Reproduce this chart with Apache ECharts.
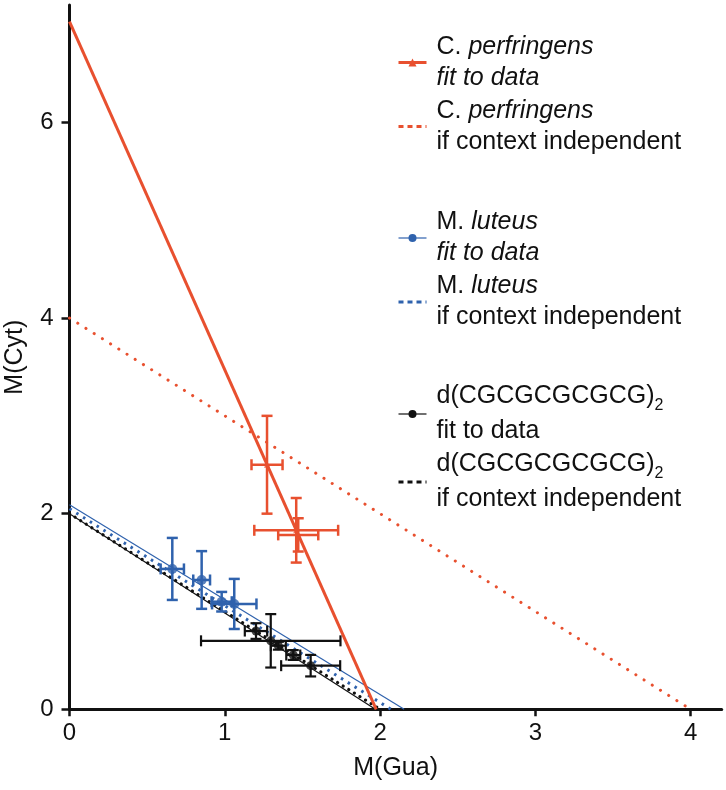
<!DOCTYPE html>
<html><head><meta charset="utf-8">
<script src="https://cdn.jsdelivr.net/npm/echarts@6/dist/echarts.min.js"></script>
<style>html,body{margin:0;padding:0;background:#fff}#c{width:726px;height:790px}</style>
</head><body><div id="c"></div>
<script>
// ---- axis ticks ----
const xTicks = [0, 1, 2, 3, 4];
const yTicks = [0, 2, 4, 6];
// ---- C. perfringens ----
const redX = [1.272, 1.46, 1.473];
const redY = [2.50, 1.83, 1.783];
const redXErr = [0.10, 0.27, 0.129];
const redYErr = [0.50, 0.33, 0.17];
const redFit = [[0, 7.03], [1.975, 0]];
const redIndep = [[0, 4.0], [4.0, 0]];
// ---- M. luteus ----
const blueX = [0.662, 0.851, 0.98, 1.061];
const blueY = [1.435, 1.322, 1.10, 1.077];
const blueXErr = [0.075, 0.054, 0.065, 0.143];
const blueYErr = [0.317, 0.295, 0.10, 0.256];
const blueFit = [[0, 2.09], [2.155, 0]];
const blueIndep = [[0, 2.05], [2.07, 0]];
// ---- d(CGCGCGCGCG)2 ----
const blackX = [1.201, 1.296, 1.345, 1.441, 1.553];
const blackY = [0.80, 0.70, 0.65, 0.555, 0.446];
const blackXErr = [0.072, 0.449, 0.048, 0.045, 0.19];
const blackYErr = [0.08, 0.273, 0.04, 0.05, 0.11];
const blackFit = [[0, 2.0], [1.97, 0]];
const blackIndep = [[0, 2.0], [2.0, 0]];

const RED = '#e8502f', BLUE = '#2f62ad', BLACK = '#111111';
const FONT = '"Liberation Sans", Arial, Helvetica, sans-serif';

function errSeries(xs, ys, xe, ye, color, lw) {
  return {
    type: 'custom', silent: true, z: 3,
    encode: { x: 0, y: 1 },
    data: xs.map((x, i) => [x, ys[i], xe[i], ye[i]]),
    renderItem: function (params, api) {
      const x = api.value(0), y = api.value(1), dx = api.value(2), dy = api.value(3);
      const l = api.coord([x - dx, y]), r = api.coord([x + dx, y]);
      const t = api.coord([x, y + dy]), b = api.coord([x, y - dy]);
      const c = 5.5;
      const st = { stroke: color, lineWidth: lw };
      const seg = (x1, y1, x2, y2) => ({ type: 'line', shape: { x1, y1, x2, y2 }, style: st });
      return { type: 'group', children: [
        seg(l[0], l[1], r[0], r[1]),
        seg(t[0], t[1], b[0], b[1]),
        seg(l[0], l[1] - c, l[0], l[1] + c),
        seg(r[0], r[1] - c, r[0], r[1] + c),
        seg(t[0] - c, t[1], t[0] + c, t[1]),
        seg(b[0] - c, b[1], b[0] + c, b[1])
      ] };
    }
  };
}
function pts(xs, ys, color, symbol, size) {
  return { type: 'scatter', silent: true, z: 4, symbol: symbol, symbolSize: size,
    itemStyle: { color: color }, data: xs.map((x, i) => [x, ys[i]]) };
}

const names = {
  rf: 'C. perfringens fit', ri: 'C. perfringens indep',
  bf: 'M. luteus fit', bi: 'M. luteus indep',
  kf: 'CG fit', ki: 'CG indep'
};
const legendText = {};
legendText[names.rf] = '{n|C. }{i|perfringens}\n{i|fit to data}';
legendText[names.ri] = '{n|C. }{i|perfringens}\n{n|if context independent}';
legendText[names.bf] = '{n|M. }{i|luteus}\n{i|fit to data}';
legendText[names.bi] = '{n|M. }{i|luteus}\n{n|if context independent}';
legendText[names.kf] = '{b|d(CGCGCGCGCG)}{s|2}\n{b|fit to data}';
legendText[names.ki] = '{b|d(CGCGCGCGCG)}{s|2}\n{b|if context independent}';

const rich = {
  n: { fontSize: 25, fontFamily: FONT, color: BLACK, lineHeight: 31 },
  i: { fontSize: 25, fontFamily: FONT, color: BLACK, lineHeight: 31, fontStyle: 'italic' },
  b: { fontSize: 25, fontFamily: FONT, color: BLACK, lineHeight: 35 },
  s: { fontSize: 16, fontFamily: FONT, color: BLACK, lineHeight: 10, verticalAlign: 'bottom' }
};
function legendBlock(top, fitName, indName) {
  return {
    orient: 'vertical', left: 397, top: top, padding: 0, itemGap: 8,
    itemWidth: 28, itemHeight: 10, selectedMode: false,
    formatter: n => legendText[n],
    textStyle: { rich: rich, padding: [0, 0, 0, 5] },
    lineStyle: { width: 'inherit' },
    data: [
      { name: fitName },
      { name: indName, itemStyle: { opacity: 0 }, lineStyle: { type: [5, 4], cap: 'butt', width: 3 } }
    ]
  };
}

const chart = echarts.init(document.getElementById('c'));
chart.setOption({
  animation: false,
  backgroundColor: '#fff',
  grid: { left: 69.5, right: 4.3, top: 5, bottom: 80.7, containLabel: false, outerBoundsMode: 'none' },
  legend: [
    legendBlock(34.5, names.rf, names.ri),
    legendBlock(210, names.bf, names.bi),
    legendBlock(384, names.kf, names.ki)
  ],
  xAxis: {
    type: 'value', min: 0, max: 4.2, interval: 1,
    name: 'M(Gua)', nameLocation: 'middle', nameGap: 46,
    nameTextStyle: { fontSize: 25, fontFamily: FONT, color: BLACK },
    splitLine: { show: false },
    axisLine: { lineStyle: { color: BLACK, width: 3 } },
    axisTick: { length: 7, lineStyle: { color: BLACK, width: 2.5 }, customValues: xTicks },
    axisLabel: { fontSize: 24, fontFamily: FONT, color: BLACK, margin: 12, customValues: xTicks }
  },
  yAxis: {
    type: 'value', min: 0, max: 7.2, interval: 2,
    name: 'M(Cyt)', nameLocation: 'middle', nameGap: 42,
    nameTextStyle: { fontSize: 25, fontFamily: FONT, color: BLACK },
    splitLine: { show: false },
    axisLine: { lineStyle: { color: BLACK, width: 3 } },
    axisTick: { length: 8, lineStyle: { color: BLACK, width: 2.5 }, customValues: yTicks },
    axisLabel: { fontSize: 24, fontFamily: FONT, color: BLACK, margin: 16, customValues: yTicks }
  },
  series: [
    { name: names.ri, type: 'line', data: redIndep, symbol: 'none', z: 2,
      itemStyle: { color: RED }, lineStyle: { color: RED, width: 3, type: [0.1, 9.6], cap: 'round' } },
    { name: names.bi, type: 'line', data: blueIndep, symbol: 'none', z: 2,
      itemStyle: { color: BLUE }, lineStyle: { color: BLUE, width: 3, type: [2.5, 5.5], cap: 'butt' } },
    { name: names.ki, type: 'line', data: blackIndep, symbol: 'none', z: 2,
      itemStyle: { color: BLACK }, lineStyle: { color: BLACK, width: 3.2, type: [0.1, 6.5], cap: 'round' } },
    { name: names.bf, type: 'line', data: blueFit, symbol: 'circle', showSymbol: false, z: 2,
      itemStyle: { color: BLUE }, lineStyle: { color: BLUE, width: 1.2 } },
    { name: names.kf, type: 'line', data: blackFit, symbol: 'circle', showSymbol: false, z: 2,
      itemStyle: { color: BLACK }, lineStyle: { color: BLACK, width: 1.2 } },
    { name: names.rf, type: 'line', data: redFit, symbol: 'triangle', showSymbol: false, z: 2,
      itemStyle: { color: RED }, lineStyle: { color: RED, width: 3 } },
    errSeries(blueX, blueY, blueXErr, blueYErr, BLUE, 2.5),
    errSeries(blackX, blackY, blackXErr, blackYErr, BLACK, 2.2),
    errSeries(redX, redY, redXErr, redYErr, RED, 2.5),
    pts(blueX, blueY, BLUE, 'circle', 10),
    pts(blackX, blackY, BLACK, 'circle', 9),
    pts(redX, redY, RED, 'triangle', 6)
  ]
});
</script></body></html>
